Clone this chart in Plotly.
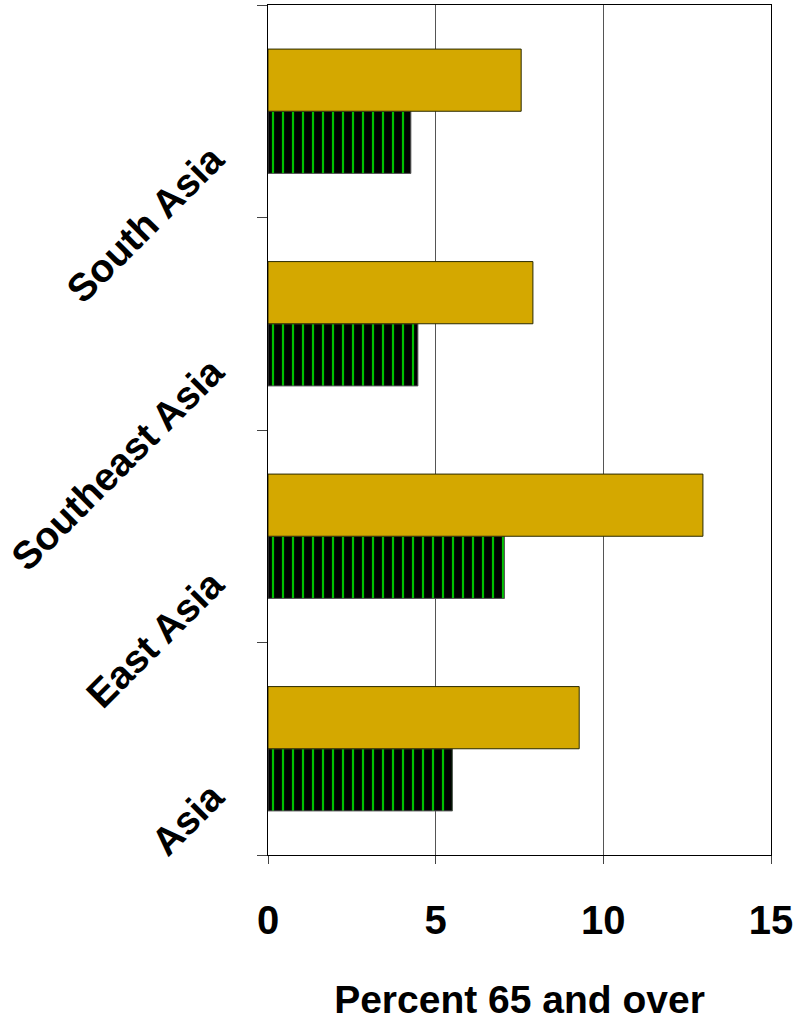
import plotly.graph_objects as go

categories = ["Asia", "East Asia", "Southeast Asia", "South Asia"]
series_green = [5.5, 7.05, 4.47, 4.26]
series_gold = [9.28, 12.97, 7.9, 7.55]
x_ticks = [0, 5, 10, 15]

FONT = "Liberation Sans, Arial, sans-serif"

fig = go.Figure()
fig.add_trace(go.Bar(
    y=categories, x=series_green, orientation="h", name="Earlier",
    marker=dict(color="#000000", line=dict(color="#555555", width=1),
                pattern=dict(shape="|", fgcolor="#00c000", bgcolor="#000000",
                             size=10, solidity=0.22, fillmode="replace")),
))
fig.add_trace(go.Bar(
    y=categories, x=series_gold, orientation="h", name="Later",
    marker=dict(color="#d4a800", line=dict(color="#2a2a00", width=1)),
))

fig.update_layout(
    barmode="group", bargap=0.415, bargroupgap=0,
    width=798, height=1021,
    margin=dict(l=268, r=27, t=5, b=166),
    plot_bgcolor="white", paper_bgcolor="white",
    showlegend=False,
    font=dict(family=FONT, color="black"),
)
fig.update_xaxes(
    range=[0, 15], tickvals=x_ticks, showgrid=True, gridcolor="#555555", gridwidth=1,
    showline=True, linecolor="black", linewidth=1, mirror=True,
    ticks="outside", ticklen=8, tickcolor="#444444",
    tickfont=dict(size=40, family=FONT, weight="bold"), ticklabelstandoff=22,
    title=dict(text="<b>Percent 65 and over</b>", font=dict(size=39, family=FONT), standoff=44),
    zeroline=False, automargin=False,
)
fig.update_yaxes(
    categoryorder="array", categoryarray=categories,
    tickson="boundaries", ticks="outside", ticklen=10, tickcolor="#444444",
    showline=True, linecolor="black", linewidth=1, mirror=True, showgrid=False,
    tickangle=-45, tickfont=dict(size=39, family=FONT, weight="bold"),
    ticklabelstandoff=47, ticklabelshift=43, automargin=False,
)

fig.write_html("out.html")
